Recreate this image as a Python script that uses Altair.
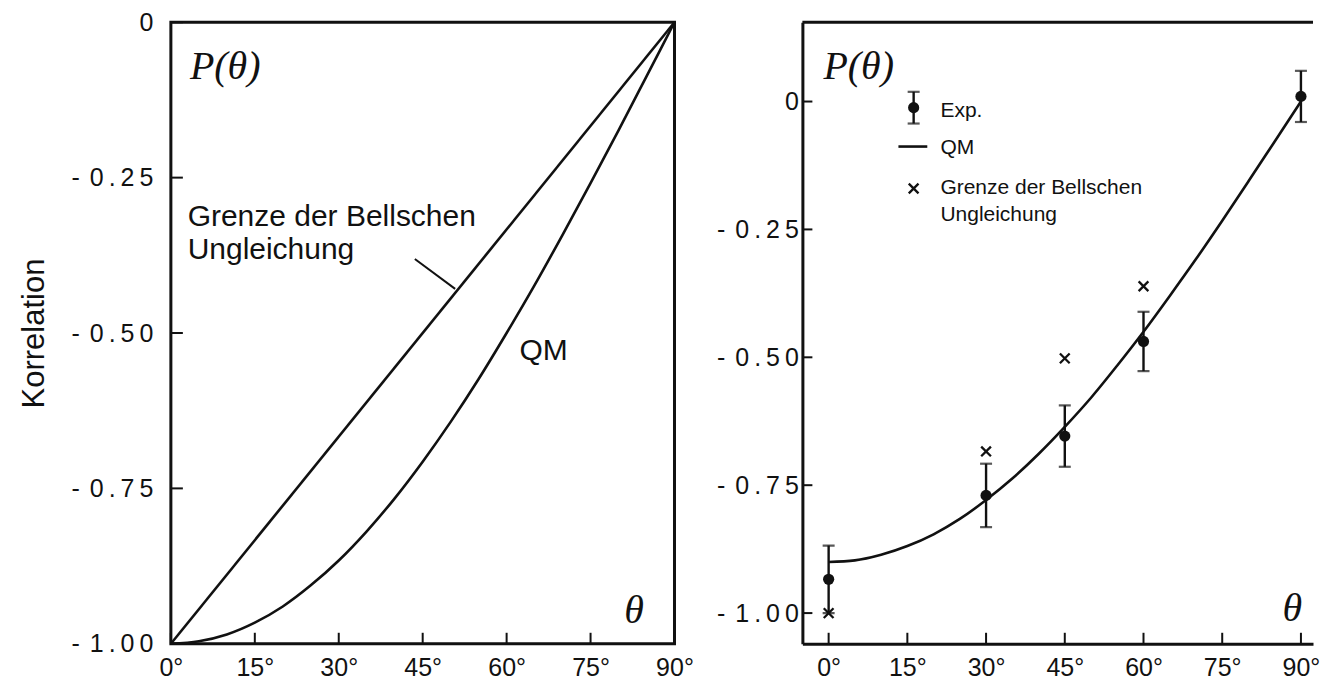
import altair as alt
import pandas as pd

# ---------------- data ----------------
# left panel
theta_grid = [0, 5, 10, 15, 20, 25, 30, 35, 40, 45, 50, 55, 60, 65, 70, 75, 80, 85, 90]
qm_left = [-1.00, -0.996, -0.985, -0.966, -0.940, -0.906, -0.866, -0.819, -0.766, -0.707,
           -0.643, -0.574, -0.500, -0.423, -0.342, -0.259, -0.174, -0.087, 0.000]
bell_left_theta = [0, 90]
bell_left = [-1.00, 0.00]

# right panel
qm_right = [-0.900, -0.897, -0.886, -0.869, -0.846, -0.816, -0.779, -0.737, -0.689, -0.636,
            -0.579, -0.516, -0.450, -0.380, -0.308, -0.233, -0.156, -0.078, 0.000]
exp_theta = [0, 30, 45, 60, 90]
exp_val = [-0.934, -0.770, -0.654, -0.469, 0.010]
exp_err = [0.066, 0.062, 0.060, 0.058, 0.050]
bell_theta = [0, 30, 45, 60]
bell_val = [-1.000, -0.684, -0.502, -0.361]

x_ticks = [0, 15, 30, 45, 60, 75, 90]
y_ticks = [0, -0.25, -0.5, -0.75, -1.0]

left_domain_x = [0, 90]
left_domain_y = [-1.0, 0.0]
right_domain_x = [-5, 92.3]
right_domain_y = [-1.06, 0.155]

BLACK = "#111111"
SANS = "Liberation Sans"
SERIF = "Liberation Serif"

XL = alt.Scale(domain=left_domain_x, nice=False, zero=False)
YL = alt.Scale(domain=left_domain_y, nice=False, zero=False)
XR = alt.Scale(domain=right_domain_x, nice=False, zero=False)
YR = alt.Scale(domain=right_domain_y, nice=False, zero=False)

TS = "\u2009"
ylab_expr = ("datum.value == 0 ? '0' : '-" + TS + TS + "' + join(split(format(-datum.value, '.2f'), ''), '" + TS + "')")


def x_axis(domain):
    return alt.Axis(values=x_ticks, labelExpr="datum.value + '°'", ticks=False, domain=domain,
                    domainWidth=3, domainColor=BLACK, grid=False, labelPadding=12, title=None,
                    labelFlush=False, labelOverlap=False, labelBound=False)


def y_axis(domain, title, pad):
    kw = dict(values=y_ticks, labelExpr=ylab_expr, ticks=False, domain=domain, domainWidth=3,
              domainColor=BLACK, grid=False, labelPadding=pad, labelFlush=False,
              labelOverlap=False, labelBound=False)
    if title:
        kw.update(title=title, titlePadding=20, titleFontSize=31, titleFont=SANS,
                  titleFontWeight="normal", titleColor=BLACK)
    else:
        kw.update(title=None)
    return alt.Axis(**kw)


AXL = x_axis(False)
AYL = y_axis(False, "Korrelation", 18)
AXR = x_axis(True)
AYR = y_axis(True, None, 4)


def XLf(f):
    return alt.X(f, scale=XL, axis=AXL)


def YLf(f):
    return alt.Y(f, scale=YL, axis=AYL)


def XRf(f):
    return alt.X(f, scale=XR, axis=AXR)


def YRf(f):
    return alt.Y(f, scale=YR, axis=AYR)


W_L, H = 504, 622
W_R = 511

# ---------------- left panel ----------------
df_lines_l = pd.DataFrame({
    "theta": theta_grid + bell_left_theta,
    "p": qm_left + bell_left,
    "series": ["QM"] * len(theta_grid) + ["Bell"] * len(bell_left_theta),
})
lines_l = alt.Chart(df_lines_l).mark_line(color=BLACK, strokeWidth=2.6, interpolate="monotone").encode(
    x=XLf("theta:Q"), y=YLf("p:Q"), detail="series:N")

df_xt = pd.DataFrame({"theta": x_ticks})
df_yt = pd.DataFrame({"p": y_ticks})
xt_l = alt.Chart(df_xt).mark_rule(color=BLACK, strokeWidth=2).encode(
    x=XLf("theta:Q"), y=alt.value(H), y2=alt.value(H - 11))
yt_l = alt.Chart(df_yt).mark_rule(color=BLACK, strokeWidth=2).encode(
    y=YLf("p:Q"), x=alt.value(0), x2=alt.value(12))

df_ptr = pd.DataFrame({"theta": [43.6], "p": [-0.381], "theta2": [50.8], "p2": [-0.429]})
ptr = alt.Chart(df_ptr).mark_rule(color=BLACK, strokeWidth=2).encode(
    x=XLf("theta:Q"), y=YLf("p:Q"), x2="theta2:Q", y2="p2:Q")

df_ann_l = pd.DataFrame({"theta": [3.0, 3.0, 62.3], "p": [-0.328, -0.381, -0.543],
                         "txt": ["Grenze der Bellschen", "Ungleichung", "QM"]})
ann_l = alt.Chart(df_ann_l).mark_text(align="left", baseline="alphabetic", font=SANS,
                                      fontSize=30, color=BLACK).encode(
    x=XLf("theta:Q"), y=YLf("p:Q"), text="txt:N")

df_sym_l = pd.DataFrame({"theta": [3.4, 81.0], "p": [-0.072, -0.947], "txt": ["P(θ)", "θ"]})
sym_l = alt.Chart(df_sym_l).mark_text(baseline="middle", font=SERIF, fontStyle="italic",
                                      fontSize=40, color=BLACK, align="left").encode(
    x=XLf("theta:Q"), y=YLf("p:Q"), text="txt:N")

left = alt.layer(lines_l, xt_l, yt_l, ptr, ann_l, sym_l).properties(
    width=W_L, height=H, view=alt.ViewBackground(stroke=BLACK, strokeWidth=3))

# ---------------- right panel ----------------
df_qm_r = pd.DataFrame({"theta": theta_grid, "p": qm_right})
qm_r = alt.Chart(df_qm_r).mark_line(color=BLACK, strokeWidth=2.6, interpolate="monotone").encode(
    x=XRf("theta:Q"), y=YRf("p:Q"))

df_exp = pd.DataFrame({"theta": exp_theta, "p": exp_val, "err": exp_err})

# legend items (data coordinates)
leg_theta = [16.2]
leg_exp = [-0.012]
leg_err = [0.031]
df_leg_exp = pd.DataFrame({"theta": leg_theta, "p": leg_exp, "err": leg_err})
df_exp_all = pd.concat([df_exp, df_leg_exp], ignore_index=True)
df_exp_all["lo"] = df_exp_all["p"] - df_exp_all["err"]
df_exp_all["hi"] = df_exp_all["p"] + df_exp_all["err"]

bars = alt.Chart(df_exp_all).mark_rule(color=BLACK, strokeWidth=2.4).encode(
    x=XRf("theta:Q"), y=YRf("lo:Q"), y2="hi:Q")
cap_lo = alt.Chart(df_exp_all).mark_tick(color=BLACK, thickness=2.2, size=12, orient="horizontal").encode(
    x=XRf("theta:Q"), y=YRf("lo:Q"))
cap_hi = alt.Chart(df_exp_all).mark_tick(color=BLACK, thickness=2.2, size=12, orient="horizontal").encode(
    x=XRf("theta:Q"), y=YRf("hi:Q"))
dots = alt.Chart(df_exp_all).mark_circle(color=BLACK, size=125, opacity=1).encode(
    x=XRf("theta:Q"), y=YRf("p:Q"))

df_bell = pd.DataFrame({"theta": bell_theta + leg_theta, "p": bell_val + [-0.170]})
crosses = alt.Chart(df_bell).mark_point(shape="M-1,-1L1,1M-1,1L1,-1", size=95, filled=False,
                                        color=BLACK, strokeWidth=2.3, opacity=1).encode(
    x=XRf("theta:Q"), y=YRf("p:Q"))

df_leg_line = pd.DataFrame({"theta": [13.3], "theta2": [18.8], "p": [-0.088]})
leg_line = alt.Chart(df_leg_line).mark_rule(color=BLACK, strokeWidth=2.6).encode(
    x=XRf("theta:Q"), x2="theta2:Q", y=YRf("p:Q"))

df_leg_txt = pd.DataFrame({"theta": [21.3, 21.3, 21.3, 21.3], "p": [-0.018, -0.090, -0.170, -0.222],
                           "txt": ["Exp.", "QM", "Grenze der Bellschen", "Ungleichung"]})
leg_txt = alt.Chart(df_leg_txt).mark_text(align="left", baseline="middle", font=SANS,
                                          fontSize=21, color=BLACK).encode(
    x=XRf("theta:Q"), y=YRf("p:Q"), text="txt:N")

df_sym_r = pd.DataFrame({"theta": [-1.0, 86.5], "p": [0.068, -0.992], "txt": ["P(θ)", "θ"]})
sym_r = alt.Chart(df_sym_r).mark_text(baseline="middle", font=SERIF, fontStyle="italic",
                                      fontSize=40, color=BLACK, align="left").encode(
    x=XRf("theta:Q"), y=YRf("p:Q"), text="txt:N")

xt_r = alt.Chart(df_xt).mark_rule(color=BLACK, strokeWidth=2).encode(
    x=XRf("theta:Q"), y=alt.value(H), y2=alt.value(H - 11))
yt_r = alt.Chart(df_yt).mark_rule(color=BLACK, strokeWidth=2).encode(
    y=YRf("p:Q"), x=alt.value(0), x2=alt.value(10))

df_top = pd.DataFrame({"p": [right_domain_y[1]]})
top_line = alt.Chart(df_top).mark_rule(color=BLACK, strokeWidth=3).encode(y=YRf("p:Q"))

right = alt.layer(qm_r, bars, cap_lo, cap_hi, dots, crosses, leg_line, leg_txt, sym_r,
                  xt_r, yt_r, top_line).properties(width=W_R, height=H)

chart = alt.hconcat(left, right, spacing=20).configure(
    padding={"left": 9, "top": 0, "right": 0, "bottom": 0},
    background="white",
).configure_view(stroke=None).configure_axis(
    labelFont=SANS, labelFontSize=25, labelColor=BLACK,
)

chart.save("out.html", embed_options={"renderer": "svg", "actions": False})
